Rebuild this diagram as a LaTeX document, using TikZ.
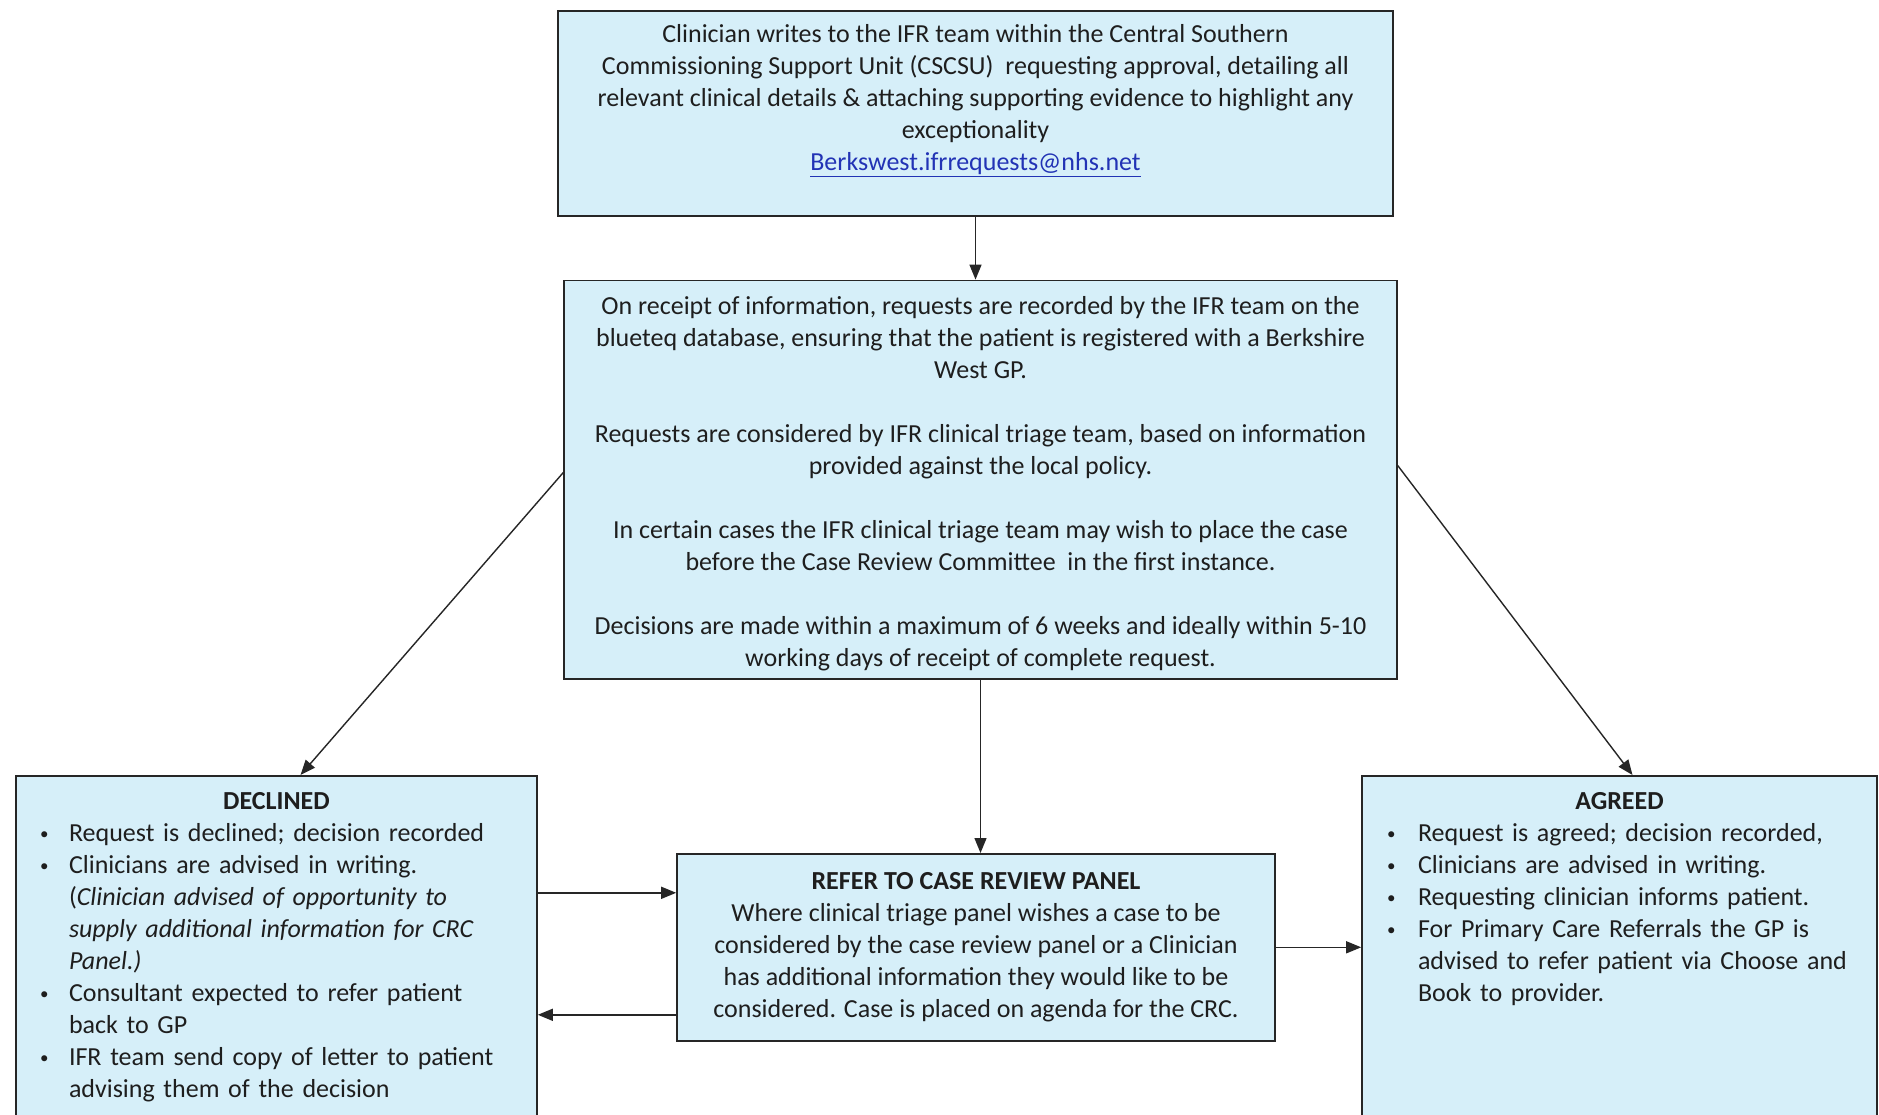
\documentclass[tikz,border=0pt]{standalone}
\usepackage{fontspec}
\setmainfont{Carlito}
\usetikzlibrary{arrows.meta,positioning}
\definecolor{IfrFill}{HTML}{D6EFF9}
\definecolor{IfrLine}{HTML}{262626}
\definecolor{IfrText}{HTML}{1E1E1E}
\definecolor{IfrLink}{HTML}{2233B5}
\newcommand{\ifrbul}[2]{\makebox[#1][l]{\raisebox{2.5pt}{\fontsize{17}{17}\selectfont\textbullet}}#2}
\newcommand{\ifrpad}[1]{\rule[-#1]{0pt}{#1}}
\newcommand{\ifrtop}[1]{\rule{0pt}{#1}}

\begin{document}
\begin{tikzpicture}[x=1pt,y=-1pt,
    flowbox/.style={draw=IfrLine,line width=1.6pt,fill=IfrFill,text=IfrText,
      inner ysep=8pt,font=\fontsize{26}{32}\selectfont},
    arr/.style={-{Triangle[length=15pt,width=12pt]},line width=1.4pt,draw=IfrLine}]
  \useasboundingbox[fill=white] (0,0) rectangle (1879,1115);
  \clip (0,0) rectangle (1879,1115);
  \node[flowbox,inner xsep=0pt,minimum width=835pt,align=center,anchor=north] (req) at (975.5,10)
    {\ifrtop{24pt}Clinician writes to the IFR team within the Central Southern\\
     Commissioning Support Unit (CSCSU) \ requesting approval, detailing all\\
     relevant clinical details \& attaching supporting evidence to highlight any\\
     exceptionality\\
     {\color{IfrLink}\underline{Berkswest.ifrrequests@nhs.net}}\ifrpad{37pt}};
  \node[flowbox,inner xsep=0pt,minimum width=833pt,align=center,below=63pt of req,xshift=5pt] (tri)
    {\ifrtop{26pt}On receipt of information, requests are recorded by the IFR team on the\\
     blueteq database, ensuring that the patient is registered with a Berkshire\\
     West GP.\\[32pt]
     Requests are considered by IFR clinical triage team, based on information\\
     provided against the local policy.\\[32pt]
     In certain cases the IFR clinical triage team may wish to place the case\\
     before the Case Review Committee \ in the first instance.\\[32pt]
     Decisions are made within a maximum of 6 weeks and ideally within 5-10\\
     working days of receipt of complete request.};
  \node[flowbox,inner xsep=24pt,text width=473pt,align=left,anchor=north] (dec) at (276.5,775)
    {\makebox[\hsize][c]{\ifrtop{26pt}\bfseries DECLINED}\\
     \ifrbul{29pt}{Request is declined; decision recorded}\\
     \ifrbul{29pt}{Clinicians are advised in writing.}\\
     \hspace*{29pt}(\textit{Clinician advised of opportunity to}\\
     \hspace*{29pt}\textit{supply additional information for CRC}\\
     \hspace*{29pt}\textit{Panel.)}\\
     \ifrbul{29pt}{Consultant expected to refer patient}\\
     \hspace*{29pt}back to GP\\
     \ifrbul{29pt}{IFR team send copy of letter to patient}\\
     \hspace*{29pt}advising them of the decision\ifrpad{60pt}};
  \node[flowbox,inner xsep=0pt,minimum width=598pt,align=center,anchor=north] (crp) at (976,853)
    {{\ifrtop{28pt}\bfseries REFER TO CASE REVIEW PANEL}\\
     Where clinical triage panel wishes a case to be\\
     considered by the case review panel or a Clinician\\
     has additional information they would like to be\\
     considered. Case is placed on agenda for the CRC.\ifrpad{15pt}};
  \node[flowbox,inner xsep=25pt,text width=465pt,align=left,anchor=north] (agr) at (1619.5,775)
    {\makebox[\hsize][c]{\ifrtop{26pt}\bfseries AGREED}\\
     \ifrbul{31pt}{Request is agreed; decision recorded,}\\
     \ifrbul{31pt}{Clinicians are advised in writing.}\\
     \ifrbul{31pt}{Requesting clinician informs patient.}\\
     \ifrbul{31pt}{For Primary Care Referrals the GP is}\\
     \hspace*{31pt}advised to refer patient via Choose and\\
     \hspace*{31pt}Book to provider.\ifrpad{190pt}};
  \coordinate (r1) at ([yshift=54.5pt]crp.west);
  \coordinate (r2) at ([yshift=-67.5pt]crp.west);
  \draw[arr] (req.south) -- (req.south |- tri.north);
  \draw[arr] (tri.south) -- (tri.south |- crp.north);
  \draw[arr] ([yshift=7pt]tri.west) -- ([xshift=24pt]dec.north);
  \draw[arr] ([yshift=14pt]tri.east) -- ([xshift=13pt]agr.north);
  \draw[arr] (dec.east |- r1) -- (r1);
  \draw[arr] (r2) -- (dec.east |- r2);
  \draw[arr] (crp.east) -- (agr.west |- crp.east);
\end{tikzpicture}
\end{document}
